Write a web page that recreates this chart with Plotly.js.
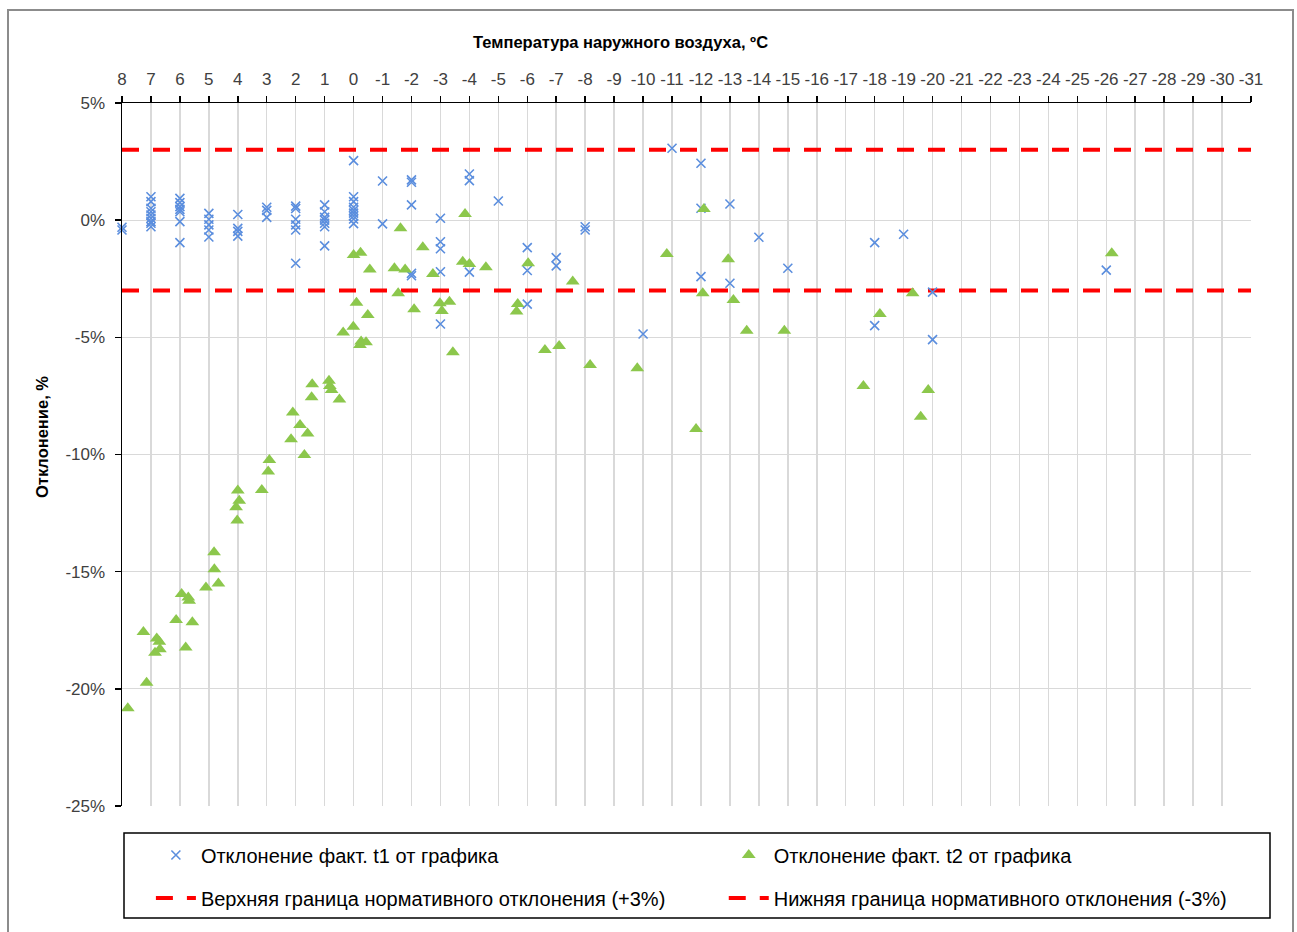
<!DOCTYPE html>
<html>
<head>
<meta charset="utf-8">
<script src="https://cdn.plot.ly/plotly-3.0.1.min.js"></script>
<style>html,body{margin:0;padding:0;background:#fff;}#chart{width:1297px;height:932px;}</style>
</head>
<body>
<div id="chart"></div>
<script>
// ---- data ----
var t1Temp = [8,8,
  7,7,7,7,7,7,7,7,7,
  6,6,6,6,6,6,6,
  5,5,5,5,5,
  4,4,4,4,
  3,3,3,
  2,2,2,2,2,2,
  1,1,1,1,1,1,1,
  0,0,0,0,0,0,0,0,0,
  -1,-1,
  -2,-2,-2,-2,-2,
  -3,-3,-3,-3,-3,
  -4,-4,-4,
  -5,
  -6,-6,-6,
  -7,-7,
  -8,-8,
  -10,
  -11,
  -12,-12,-12,
  -13,-13,
  -14,
  -15,
  -18,-18,
  -19,
  -20,-20,
  -26];
var t1Dev = [-0.3,-0.42,
  1.0,0.79,0.51,0.36,0.22,0.08,-0.06,-0.13,-0.28,
  0.93,0.75,0.58,0.46,0.36,-0.06,-0.96,
  0.29,0.04,-0.2,-0.42,-0.72,
  0.24,-0.35,-0.48,-0.68,
  0.55,0.42,0.12,
  0.6,0.5,0.04,-0.2,-0.42,-1.84,
  0.65,0.36,0.12,0.0,-0.13,-0.28,-1.1,
  2.54,1.0,0.79,0.55,0.42,0.3,0.18,0.05,-0.15,
  1.67,-0.16,
  1.72,1.62,0.65,-2.27,-2.37,
  0.08,-0.92,-1.22,-2.2,-4.43,
  1.97,1.69,-2.22,
  0.82,
  -1.17,-2.15,-3.58,
  -1.6,-1.95,
  -0.28,-0.42,
  -4.86,
  3.07,
  2.43,0.51,-2.41,
  0.69,-2.69,
  -0.73,
  -2.05,
  -0.96,-4.5,
  -0.6,
  -3.07,-5.1,
  -2.13];

var t2Temp = [7.80,7.15,7.26,6.80,6.71,6.86,6.69,6.13,5.94,5.71,5.68,5.57,5.80,5.10,4.82,4.81,4.67,
  4.00,3.95,4.06,4.02,3.17,2.95,2.91,2.16,2.10,1.85,1.70,1.59,1.45,1.43,0.85,0.82,0.76,0.49,
  0.36,0.01,-0.10,-0.49,-0.26,-0.43,-0.22,0.00,-0.24,-0.56,-1.62,-1.41,-1.78,-1.54,-2.39,-2.74,
  -2.09,-2.98,-3.31,-3.05,-3.43,-3.85,-3.77,-4.00,-4.57,-6.03,-5.67,-5.63,-6.61,-7.10,-7.57,-8.17,
  -9.80,-10.82,-11.83,-12.10,-12.06,-12.94,-13.12,-13.58,-14.88,-17.61,-18.18,-19.31,-19.59,-19.85,-26.19];
var t2Dev = [-20.83,-19.74,-17.58,-17.85,-17.99,-18.46,-18.31,-17.06,-15.95,-16.1,-16.24,-17.16,-18.24,-15.68,-14.17,-14.9,-15.5,
  -11.54,-11.97,-12.25,-12.82,-11.51,-10.73,-10.23,-9.35,-8.21,-8.74,-10.02,-9.1,-7.56,-7.0,-6.85,-7.08,-7.25,-7.65,
  -4.79,-4.55,-3.52,-4.05,-5.18,-5.21,-5.33,-1.49,-1.39,-2.1,-0.35,-2.05,-2.1,-3.12,-1.16,-2.3,
  -3.8,-3.55,-3.48,-3.88,-5.64,0.26,-1.77,-1.87,-2.01,-1.84,-3.58,-3.9,-5.54,-5.37,-2.62,-6.18,
  -6.32,-1.44,-8.91,0.48,-3.12,-1.67,-3.41,-4.72,-4.72,-7.08,-4.0,-3.12,-8.39,-7.25,-1.41];

var boundTemp = [8, -31];
var upperDev = [3, 3];
var lowerDev = [-3, -3];

var xTickVals = [8,7,6,5,4,3,2,1,0,-1,-2,-3,-4,-5,-6,-7,-8,-9,-10,-11,-12,-13,-14,-15,-16,-17,-18,-19,-20,-21,-22,-23,-24,-25,-26,-27,-28,-29,-30,-31];
var xTickText = ["8","7","6","5","4","3","2","1","0","-1","-2","-3","-4","-5","-6","-7","-8","-9","-10","-11","-12","-13","-14","-15","-16","-17","-18","-19","-20","-21","-22","-23","-24","-25","-26","-27","-28","-29","-30","-31"];
var yTickVals = [5,0,-5,-10,-15,-20,-25];
var yTickText = ["5%","0%","-5%","-10%","-15%","-20%","-25%"];

var names = ["Отклонение факт. t1 от графика","Отклонение факт. t2 от графика",
  "Верхняя граница нормативного отклонения (+3%)","Нижняя граница нормативного отклонения (-3%)"];
var xTitle = "Температура наружного воздуха, ºС";
var yTitle = "Отклонение, %";

// ---- styling ----
var blue = "#5b8ede", green = "#8cc74c", red = "#ff0000";
var FONT = "Liberation Sans, Arial, sans-serif";

var traces = [
  {type:"scatter", mode:"lines", x:boundTemp, y:upperDev, name:names[2], legend:"legend", legendgroup:"g3", legendrank:2,
   line:{color:red, width:4, dash:"17px,14px"}, hoverinfo:"skip"},
  {type:"scatter", mode:"lines", x:boundTemp, y:lowerDev, name:names[3], legend:"legend2", legendgroup:"g4", legendrank:2,
   line:{color:red, width:4, dash:"17px,14px"}, hoverinfo:"skip"},
  {type:"scatter", mode:"markers", x:t1Temp, y:t1Dev, name:names[0], legend:"legend", legendgroup:"g1", legendrank:1,
   cliponaxis:false,
   marker:{symbol:"x-thin", size:9, line:{color:blue, width:1.6}, color:blue}},
  {type:"scatter", mode:"markers", x:t2Temp, y:t2Dev, name:names[1], legend:"legend2", legendgroup:"g2", legendrank:1,
   cliponaxis:false,
   marker:{symbol:"triangle-up", size:12, color:green, line:{width:0}}}
];

var legendCommon = {
  orientation:"v", bgcolor:"rgba(0,0,0,0)", borderwidth:0,
  font:{family:FONT, size:20, color:"#000"}, tracegroupgap:14,
  traceorder:"grouped", yanchor:"top", xanchor:"left", itemwidth:40
};

var layout = {
  width:1297, height:932,
  margin:{l:122, r:46, t:103, b:126},
  paper_bgcolor:"#fff", plot_bgcolor:"#fff",
  font:{family:FONT, size:17, color:"#404040"},
  showlegend:true,
  xaxis:{
    side:"top", range:[8,-31], tickmode:"array", tickvals:xTickVals, ticktext:xTickText,
    showgrid:true, gridcolor:"#d9d9d9", gridwidth:1.5,
    showline:true, linecolor:"#000", linewidth:1.5,
    ticks:"outside", ticklen:6, tickcolor:"#000", tickwidth:1.5, ticklabelstandoff:4,
    tickfont:{family:FONT, size:17, color:"#404040"}, zeroline:false
  },
  yaxis:{
    range:[-25,5], tickmode:"array", tickvals:yTickVals, ticktext:yTickText,
    showgrid:true, gridcolor:"#d9d9d9", gridwidth:1,
    showline:true, linecolor:"#000", linewidth:1.5,
    ticks:"outside", ticklen:6, tickcolor:"#000", tickwidth:1.5, ticklabelstandoff:6,
    tickfont:{family:FONT, size:17, color:"#404040"}, zeroline:false
  },
  legend:Object.assign({}, legendCommon, {x:0.0256, y:-0.042}),
  legend2:Object.assign({}, legendCommon, {x:0.533, y:-0.042}),
  annotations:[
    {text:"<b>"+xTitle+"</b>", xref:"paper", yref:"paper", x:(620-122)/1129, y:1+(103-42)/703,
     xanchor:"center", yanchor:"middle", showarrow:false, font:{family:FONT, size:16.5, color:"#000"}},
    {text:"<b>"+yTitle+"</b>", xref:"paper", yref:"paper", x:(42-122)/1129, y:(806-437)/703,
     xanchor:"center", yanchor:"middle", textangle:-90, showarrow:false, font:{family:FONT, size:16.5, color:"#000"}}
  ],
  shapes:[
    {type:"rect", xref:"paper", yref:"paper", x0:2/1129, x1:(1270-122)/1129, y0:-(918-806)/703, y1:-(833-806)/703,
     line:{color:"#000", width:1.5}, fillcolor:"rgba(0,0,0,0)", layer:"above"},
    {type:"rect", xref:"paper", yref:"paper", x0:(8-122)/1129, x1:(1293-122)/1129, y0:-(960-806)/703, y1:1+(103-10)/703,
     line:{color:"#8c8c8c", width:2}, fillcolor:"rgba(0,0,0,0)", layer:"below"}
  ]
};

Plotly.newPlot("chart", traces, layout, {displayModeBar:false, staticPlot:true});
</script>
</body>
</html>
